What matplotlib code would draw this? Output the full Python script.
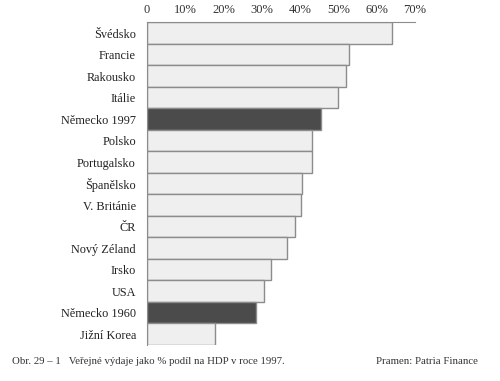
import numpy as np
import matplotlib.pyplot as plt

plt.rcParams['font.family'] = 'Liberation Serif'
plt.rcParams['font.size'] = 9

countries = ['Švédsko', 'Francie', 'Rakousko', 'Itálie', 'Německo 1997',
             'Polsko', 'Portugalsko', 'Španělsko', 'V. Británie', 'ČR',
             'Nový Zéland', 'Irsko', 'USA', 'Německo 1960', 'Jižní Korea']
values = [63.9, 52.8, 52.1, 50.0, 45.4, 43.0, 43.1, 40.5, 40.3, 38.7,
          36.6, 32.4, 30.6, 28.5, 17.8]
highlight = ['Německo 1997', 'Německo 1960']

tick_values = [0, 10, 20, 30, 40, 50, 60, 70]
tick_labels = ['0', '10%', '20%', '30%', '40%', '50%', '60%', '70%']

light = '#efefef'
dark = '#4b4b4b'
edge = '#8c8c8c'

fig = plt.figure(figsize=(5.0, 3.81), dpi=100)
ax = fig.add_axes([0.294, 0.0945, 0.536, 0.8465])

y = np.arange(len(countries))
colors = [dark if c in highlight else light for c in countries]
ax.barh(y, values, height=1.0, color=colors, edgecolor=edge, linewidth=1.0)

ax.set_xlim(0, 70)
ax.set_ylim(len(countries) - 0.5, -0.5)

ax.set_yticks(y)
ax.set_yticklabels(countries, fontsize=8.8, color='#222222')
ax.set_xticks(tick_values)
ax.set_xticklabels(tick_labels, fontsize=9, color='#333333')
ax.xaxis.tick_top()
ax.tick_params(axis='both', length=0)
ax.tick_params(axis='y', pad=8)
ax.tick_params(axis='x', pad=5)

for side in ['right', 'bottom']:
    ax.spines[side].set_visible(False)
ax.spines['top'].set_color(edge)
ax.spines['left'].set_color(edge)

fig.text(0.024, 0.052, 'Obr. 29 – 1   Veřejné výdaje jako % podíl na HDP v roce 1997.',
         fontsize=7.75, color='#333333', va='center', ha='left')
fig.text(0.956, 0.052, 'Pramen: Patria Finance',
         fontsize=7.75, color='#333333', va='center', ha='right')

fig.savefig('out.png', dpi=100)
